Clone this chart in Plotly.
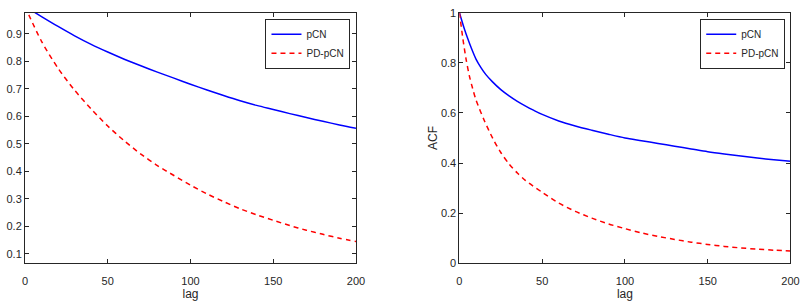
import plotly.graph_objects as go

# ---- data ----
lag_left = [0, 10, 20, 30, 40, 50, 60, 70, 80, 90, 100, 110, 120, 130, 140, 150, 160, 170, 180, 190, 200]
pcn_left = [1.0, 0.963, 0.927, 0.893, 0.862, 0.834, 0.808, 0.784, 0.761, 0.739, 0.717, 0.696, 0.676, 0.657, 0.640, 0.625, 0.610, 0.596, 0.582, 0.569, 0.557]
pdpcn_left = [1.0, 0.873, 0.775, 0.695, 0.627, 0.565, 0.511, 0.463, 0.421, 0.385, 0.350, 0.318, 0.290, 0.264, 0.242, 0.222, 0.203, 0.186, 0.171, 0.157, 0.145]

lag_right_pcn = [0, 3, 5, 7, 10, 13, 16, 20, 25, 30, 35, 40, 45, 50, 60, 70, 80, 90, 100, 110, 120, 130, 140, 150, 160, 170, 180, 190, 200]
pcn_right = [1.0, 0.935, 0.897, 0.862, 0.815, 0.781, 0.753, 0.724, 0.693, 0.668, 0.646, 0.627, 0.610, 0.594, 0.568, 0.548, 0.531, 0.515, 0.500, 0.489, 0.478, 0.467, 0.456, 0.445, 0.436, 0.428, 0.420, 0.413, 0.407]

lag_right_pd = [0, 2, 4, 6, 8, 10, 15, 20, 25, 30, 35, 40, 50, 60, 70, 80, 90, 100, 110, 120, 130, 140, 150, 160, 170, 180, 190, 200]
pdpcn_right = [1.0, 0.90, 0.815, 0.748, 0.697, 0.652, 0.570, 0.500, 0.442, 0.396, 0.360, 0.330, 0.283, 0.240, 0.207, 0.180, 0.157, 0.138, 0.121, 0.107, 0.095, 0.084, 0.075, 0.067, 0.061, 0.056, 0.052, 0.049]

series_names = ["pCN", "PD-pCN"]
xticks = [0, 50, 100, 150, 200]
yticks_left = [0.1, 0.2, 0.3, 0.4, 0.5, 0.6, 0.7, 0.8, 0.9]
yticks_right = [0, 0.2, 0.4, 0.6, 0.8, 1]

BLUE = "#0000ff"
RED = "#ff0000"
AX = "#262626"
FONT = "Liberation Sans, Arial, sans-serif"

fig = go.Figure()
fig.add_trace(go.Scatter(x=lag_left, y=pcn_left, name=series_names[0], mode="lines",
                         line=dict(color=BLUE, width=1.5, shape="spline", smoothing=0.8), xaxis="x", yaxis="y", legend="legend"))
fig.add_trace(go.Scatter(x=lag_left, y=pdpcn_left, name=series_names[1], mode="lines",
                         line=dict(color=RED, width=1.5, dash="5px,4px", shape="spline", smoothing=0.8), xaxis="x", yaxis="y", legend="legend"))
fig.add_trace(go.Scatter(x=lag_right_pcn, y=pcn_right, name=series_names[0], mode="lines",
                         line=dict(color=BLUE, width=1.5, shape="spline", smoothing=0.8), xaxis="x2", yaxis="y2", legend="legend2"))
fig.add_trace(go.Scatter(x=lag_right_pd, y=pdpcn_right, name=series_names[1], mode="lines",
                         line=dict(color=RED, width=1.5, dash="5px,4px", shape="spline", smoothing=0.8), xaxis="x2", yaxis="y2", legend="legend2"))

common_axis = dict(showline=True, linecolor=AX, linewidth=1, mirror="ticks", ticks="inside",
                   ticklen=4, tickcolor=AX, showgrid=False, zeroline=False,
                   tickfont=dict(family=FONT, size=11, color=AX))

ydom = [1 - 267.7 / 306, 1 - 7 / 306]
title_font = dict(family=FONT, size=12, color=AX)

fig.update_layout(
    width=810, height=306,
    margin=dict(l=0, r=0, t=0, b=0),
    paper_bgcolor="white", plot_bgcolor="white",
    font=dict(family=FONT, color=AX),
    xaxis=dict(domain=[22.3 / 810, 358.3 / 810], range=[0, 200], tickvals=xticks, ticklabelstandoff=8,
               title=dict(text="lag", font=title_font, standoff=3), anchor="y", **common_axis),
    yaxis=dict(domain=ydom, range=[0.066, 0.977], tickvals=yticks_left,
               anchor="x", **common_axis),
    xaxis2=dict(domain=[463.3 / 810, 799.3 / 810], range=[0, 200], tickvals=xticks, ticklabelstandoff=8,
                title=dict(text="lag", font=title_font, standoff=3), anchor="y2", **common_axis),
    yaxis2=dict(domain=ydom, range=[0, 1], tickvals=yticks_right,
                title=dict(text="ACF", font=title_font, standoff=0), anchor="x2", **common_axis),
    legend=dict(x=352.7 / 810, y=1 - 13.3 / 306, xanchor="right", yanchor="top",
                bgcolor="white", bordercolor=AX, borderwidth=1,
                font=dict(family=FONT, size=10, color=AX), itemwidth=30, tracegroupgap=0),
    legend2=dict(x=794 / 810, y=1 - 13.3 / 306, xanchor="right", yanchor="top",
                 bgcolor="white", bordercolor=AX, borderwidth=1,
                 font=dict(family=FONT, size=10, color=AX), itemwidth=30, tracegroupgap=0),
    showlegend=True,
)

fig.write_html("out.html")
